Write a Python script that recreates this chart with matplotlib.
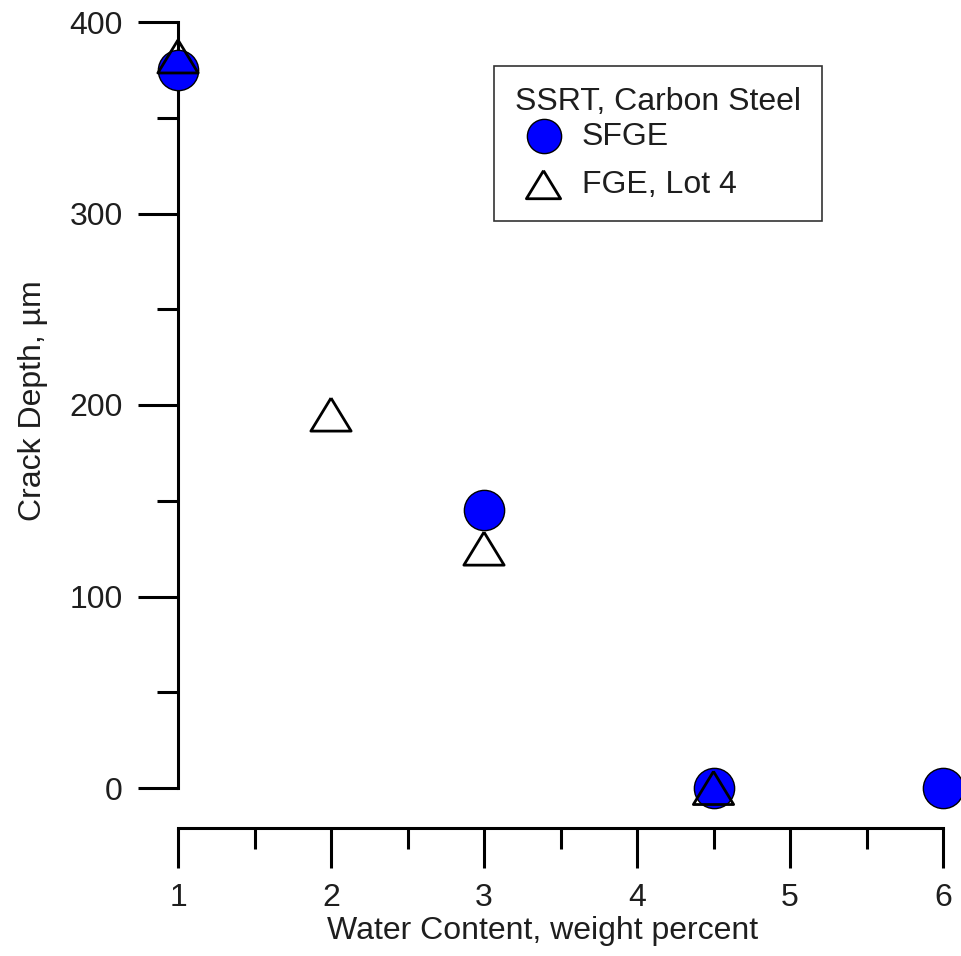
import matplotlib
matplotlib.use("Agg")
import matplotlib.pyplot as plt
from matplotlib.ticker import MultipleLocator

# valores
agua_sfge = [1, 3, 4.5, 6]
prof_sfge = [375, 145, 0, 0]
agua_fge = [1, 2, 3, 4.5]
prof_fge = [382, 195, 125, 0]

plt.rcParams['font.family'] = ['Liberation Sans', 'DejaVu Sans']
W, H = 961, 956
fig = plt.figure(figsize=(W / 100, H / 100), dpi=100)
ax = fig.add_axes([178 / W, 1 - 788 / H, (943 - 178) / W, (788 - 22) / H])

# triangulo algo achatado, como en la figura original
triangulo = [(0, 0.82), (-1, -0.82), (1, -0.82), (0, 0.82)]

ax.scatter(agua_sfge, prof_sfge, s=29**2, marker='o', facecolor='#0000ff',
           edgecolor='black', linewidth=1, zorder=3, clip_on=False, label='SFGE')
ax.scatter(agua_fge, prof_fge, s=29**2, marker=triangulo, facecolor='none',
           edgecolor='black', linewidth=2, zorder=4, clip_on=False, label='FGE, Lot 4')

ax.set_xlim(1, 6)
ax.set_ylim(0, 400)
for lado in ['top', 'right']:
    ax.spines[lado].set_visible(False)
ax.spines['left'].set_linewidth(2.2)
ax.spines['bottom'].set_linewidth(2.2)
ax.spines['bottom'].set_position(('outward', 28.8))

fs = 23
ax.xaxis.set_major_locator(MultipleLocator(1))
ax.xaxis.set_minor_locator(MultipleLocator(0.5))
ax.yaxis.set_major_locator(MultipleLocator(100))
ax.yaxis.set_minor_locator(MultipleLocator(50))
ax.tick_params(which='major', length=28.8, width=2.2, labelsize=fs,
               colors='black', labelcolor='#1e1e1e')
ax.tick_params(axis='x', which='major', pad=11)
ax.tick_params(axis='y', which='major', pad=11)
ax.tick_params(which='minor', length=15, width=2.2, colors='black')

ax.set_xlabel('Water Content, weight percent', fontsize=fs, color='#1e1e1e')
ax.xaxis.set_label_coords((543 - 178) / 765, (788 - 916) / 766)
ax.set_ylabel('Crack Depth, µm', fontsize=fs, color='#1e1e1e')
ax.yaxis.set_label_coords((48 - 178) / 765, (788 - 401) / 766)

leg = ax.legend(title='SSRT, Carbon Steel', loc='upper left',
                bbox_to_anchor=((494 - 178) / (943 - 178), (788 - 66) / (788 - 22)),
                fontsize=fs, title_fontsize=fs, frameon=True, fancybox=False,
                edgecolor='black', borderpad=0.65, handletextpad=0.3,
                handlelength=1.8, labelspacing=0.15,
                alignment='left', scatterpoints=1, markerscale=0.85,
                borderaxespad=0)
# mas espacio entre las dos entradas que entre el titulo y la primera
for col in leg._legend_handle_box.get_children():
    col.sep = 0.58 * fs
leg.get_frame().set_linewidth(1.2)
for t in leg.get_texts():
    t.set_color('#1e1e1e')
leg.get_title().set_color('#1e1e1e')

fig.savefig('out.png', dpi=100)
